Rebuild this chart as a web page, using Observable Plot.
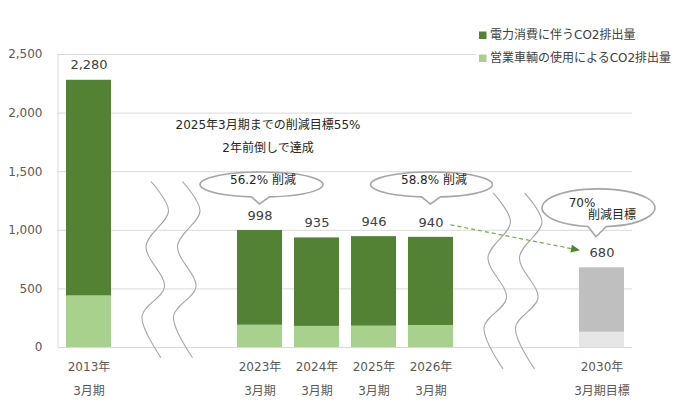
<!DOCTYPE html>
<html>
<head>
<meta charset="utf-8">
<script src="https://cdn.jsdelivr.net/npm/d3@7"></script>
<script src="https://cdn.jsdelivr.net/npm/@observablehq/plot@0.6"></script>
<style>
  html, body { margin: 0; padding: 0; background: #fff; }
  #chart { width: 675px; height: 413px; }
</style>
</head>
<body>
<div id="chart"></div>
<script>
// ---- data ----
const categories = ["2013年3月期", "2023年3月期", "2024年3月期", "2025年3月期", "2026年3月期", "2030年3月期目標"];
const yearLabels = ["2013年", "2023年", "2024年", "2025年", "2026年", "2030年"];
const periodLabels = ["3月期", "3月期", "3月期", "3月期", "3月期", "3月期目標"];
const electricity = [1840, 808, 755, 764, 752, 550];   // 電力消費に伴うCO2排出量
const vehicles = [440, 190, 180, 182, 188, 130];        // 営業車輌の使用によるCO2排出量
const totals = [2280, 998, 935, 946, 940, 680];
const yTicks = [0, 500, 1000, 1500, 2000, 2500];
const seriesNames = ["電力消費に伴うCO2排出量", "営業車輌の使用によるCO2排出量"];
const breaks = [["break-a", "break-b"], ["break-c", "break-d"]];
const slotOrder = [categories[0], ...breaks[0], categories[1], categories[2], categories[3], categories[4], ...breaks[1], categories[5]];
const noteLines = ["2025年3月期までの削減目標55%", "2年前倒しで達成"];
const bubbles = [
  {cat: "2023年3月期", text: "56.2% 削減"},
  {cat: "2026年3月期", text: "58.8% 削減"},
  {cat: "2030年3月期目標", text: "70%", text2: "削減目標"}
];

// colours
const darkGreen = "#548235", lightGreen = "#A9D18E";
const targetDark = "#BFBFBF", targetLight = "#E7E6E6";
const isTarget = i => i === categories.length - 1;

const rows = [];
categories.forEach((c, i) => {
  rows.push({cat: c, value: vehicles[i], color: isTarget(i) ? targetLight : lightGreen});
  rows.push({cat: c, value: electricity[i], color: isTarget(i) ? targetDark : darkGreen});
});
const labelRows = categories.map((c, i) => ({cat: c, total: totals[i], year: yearLabels[i], period: periodLabels[i]}));

const FONT = "'DejaVu Sans', 'Noto Sans CJK JP', sans-serif";

function decorations(index, scales, values, dimensions) {
  const {x, y} = scales;
  const bw = x.bandwidth ? x.bandwidth() : 45;
  const cx = k => x(k) + bw / 2;
  const g = d3.create("svg:g");
  const {marginLeft} = dimensions;

  // vertical axis line
  g.append("line").attr("x1", marginLeft).attr("x2", marginLeft)
    .attr("y1", y(2500)).attr("y2", y(0)).attr("stroke", "#D9D9D9");

  // break squiggles
  const shape = [[0, 0], [17.5, 29], [-5, 64.5], [13.5, 105], [-9, 134.5], [10, 176]];
  const tops = [1410, 1315];
  const line = d3.line().curve(d3.curveCatmullRom);
  breaks.forEach((pair, bi) => {
    const mid = (cx(pair[0]) + cx(pair[1])) / 2;
    [-23, 8.5].forEach(off => {
      const x0 = mid + off, y0 = y(tops[bi]);
      g.append("path").attr("d", line(shape.map(([dx, dy]) => [x0 + dx, y0 + dy])))
        .attr("fill", "none").attr("stroke", "#A6A6A6").attr("stroke-width", 1.1);
    });
  });

  // callout bubbles
  const geo = [
    {tipV: 1220, dxc: 2, dyc: -19.5, rx: 61.5, ry: 12.5, b1: -8, b2: 10},
    {tipV: 1220, dxc: 1, dyc: -19.5, rx: 61, ry: 12.5, b1: -9, b2: 10},
    {tipV: 940, dxc: 2.5, dyc: -29, rx: 56.5, ry: 19, b1: -8, b2: 10}
  ];
  bubbles.forEach((b, i) => {
    const o = geo[i];
    const tx = cx(b.cat) + (i === 2 ? -5.5 : 0), ty = y(o.tipV);
    const ecx = tx + o.dxc, ecy = ty + o.dyc;
    const ey = xx => ecy + o.ry * Math.sqrt(Math.max(0, 1 - ((xx - ecx) / o.rx) ** 2));
    const ax = tx + o.b1, bx = tx + o.b2;
    const d = `M${ax},${ey(ax)} A${o.rx},${o.ry} 0 1 1 ${bx},${ey(bx)} L${tx},${ty} Z`;
    g.append("path").attr("d", d).attr("fill", "#fff").attr("stroke", "#A6A6A6").attr("stroke-width", 1.6);
  });

  // dashed arrow 2026 -> 2030
  const sx = cx(categories[4]) + 20, sy = y(totals[4]) - 12;
  const ex = cx(categories[5]) - 21.5, ey2 = y(totals[5]) - 17;
  const ang = Math.atan2(ey2 - sy, ex - sx);
  const L = 9, W = 4;
  const bxp = ex - L * Math.cos(ang), byp = ey2 - L * Math.sin(ang);
  g.append("line").attr("x1", sx).attr("y1", sy).attr("x2", bxp).attr("y2", byp)
    .attr("stroke", "#70AD47").attr("stroke-width", 1.2).attr("stroke-dasharray", "4,3");
  g.append("path")
    .attr("d", `M${ex},${ey2} L${bxp - W * Math.sin(ang)},${byp + W * Math.cos(ang)} L${bxp + W * Math.sin(ang)},${byp - W * Math.cos(ang)} Z`)
    .attr("fill", "#548235");

  // legend
  const lg = g.append("g").attr("text-anchor", "start");
  lg.append("rect").attr("x", 476).attr("y", 20).attr("width", 199).attr("height", 50).attr("fill", "#fff");
  [darkGreen, lightGreen].forEach((col, i) => {
    const yy = 35 + i * 23;
    lg.append("rect").attr("x", 479).attr("y", yy - 3.5).attr("width", 7.5).attr("height", 7.5).attr("fill", col);
    lg.append("text").attr("x", 490).attr("y", yy).attr("dy", "0.35em").attr("text-anchor", "start")
      .attr("font-size", 12).attr("fill", "#404040").attr("font-family", FONT).text(seriesNames[i]);
  });
  return g.node();
}

const chart = Plot.plot({
  width: 675,
  height: 413,
  marginLeft: 58,
  marginRight: 43,
  marginTop: 54,
  marginBottom: 66,
  style: {fontFamily: FONT, fontSize: "12px", background: "#fff", overflow: "visible"},
  x: {type: "band", domain: slotOrder, paddingInner: 0.216, paddingOuter: 0.108, axis: null},
  y: {domain: [0, 2500], axis: null},
  color: {type: "identity"},
  marks: [
    Plot.ruleY(yTicks, {stroke: "#D9D9D9"}),
    Plot.axisY({ticks: yTicks, tickSize: 0, tickPadding: 16, tickFormat: d3.format(","), color: "#595959", label: null, fontSize: 12}),
    Plot.barY(rows, {x: "cat", y: "value", fill: "color"}),
    decorations,
    Plot.text(labelRows, {x: "cat", y: "total", text: d => d3.format(",")(d.total), dy: -15, fontSize: 13, fill: "#404040"}),
    Plot.text(labelRows, {x: "cat", y: () => 0, text: "year", dy: 20, fontSize: 12, fill: "#595959"}),
    Plot.text(labelRows, {x: "cat", y: () => 0, text: "period", dy: 44, fontSize: 12, fill: "#595959"}),
    Plot.text([noteLines[0]], {x: () => categories[1], y: () => 1900, text: d => d, dx: 8, fontSize: 12, fill: "#262626"}),
    Plot.text([noteLines[1]], {x: () => categories[1], y: () => 1700, text: d => d, dx: 8, fontSize: 12, fill: "#262626"}),
    Plot.text(bubbles.slice(0, 2), {x: "cat", y: () => 1220, text: "text", dx: 3, dy: -24, fontSize: 12, fill: "#262626"}),
    Plot.text([bubbles[2]], {x: "cat", y: () => 940, text: "text", dx: -20, dy: -34, fontSize: 12, fill: "#262626"}),
    Plot.text([bubbles[2]], {x: "cat", y: () => 940, text: "text2", dx: 10, dy: -22, fontSize: 12, fill: "#262626"})
  ]
});
document.getElementById("chart").appendChild(chart);
</script>
</body>
</html>
